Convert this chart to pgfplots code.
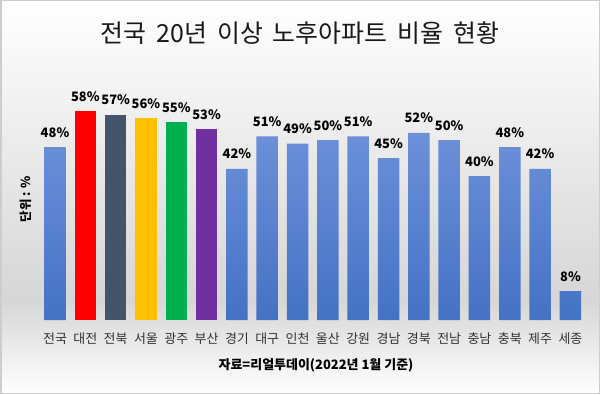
\documentclass[border=0pt]{standalone}
\usepackage{fontspec}
\setmainfont{Noto Sans CJK KR}
\usepackage{pgfplots}
\pgfplotsset{compat=1.18}
\definecolor{bTop}{RGB}{108,144,217}
\definecolor{bBot}{RGB}{68,114,196}
\definecolor{cRed}{RGB}{255,0,0}
\definecolor{cDark}{RGB}{68,84,106}
\definecolor{cGold}{RGB}{255,192,0}
\definecolor{cGreen}{RGB}{0,176,80}
\definecolor{cPurple}{RGB}{112,48,160}
\definecolor{bgGray}{RGB}{214,214,214}
\definecolor{borderGray}{RGB}{205,205,205}
\definecolor{labGray}{RGB}{50,50,50}
\newcommand{\ws}{\hspace{10bp}}
\begin{document}
\begin{tikzpicture}
\begin{scope}[x=1bp,y=1bp]
\useasboundingbox (0,0) rectangle (600,394);
\fill[top color=white, bottom color=bgGray] (0,94) rectangle (600,394);
\fill[top color=bgGray, bottom color=white] (0,0) rectangle (600,94.5);
\draw[color=borderGray, line width=1.5bp] (0.75,0.75) rectangle (599.25,393.25);
\node[font=\fontsize{25}{28}\selectfont, text=black!90] at (300,361) {전국\ws 20년\ws 이상\ws 노후아파트\ws 비율\ws 현황};
\node[font=\bfseries\fontsize{12.5}{14}\selectfont, rotate=90] at (26,195) {단위 : \%};
\node[font=\bfseries\fontsize{13}{15}\selectfont] at (316,29) {자료=리얼투데이(2022년 1월 기준)};
\end{scope}
\begin{axis}[
  at={(39.84bp,74bp)}, anchor=south west,
  scale only axis, width=545.76bp, height=234bp,
  xmin=-0.5, xmax=17.5, ymin=0, ymax=65,
  axis line style={draw=none},
  ytick=\empty,
  xtick={0,...,17},
  xticklabels={전국,대전,전북,서울,광주,부산,경기,대구,인천,울산,강원,경남,경북,전남,충남,충북,제주,세종},
  xticklabel style={anchor=base, yshift=-23bp, font=\fontsize{13}{15}\selectfont, text=labGray},
  major tick length=0pt,
  ybar, bar width=21.5bp, bar shift=0pt,
  /pgf/number format/assume math mode=true,
  nodes near coords={\pgfmathprintnumber{\pgfplotspointmeta}\%},
  nodes near coords style={anchor=base, yshift=10bp, font=\bfseries\fontsize{13}{15}\selectfont, text=black},
  clip=false,
]
\addplot[draw=none, top color=bTop, bottom color=bBot] coordinates {
 (0,48) (6,42) (7,51) (8,49) (9,50) (10,51) (11,45) (12,52) (13,50) (14,40) (15,48) (16,42) (17,8)};
\addplot[draw=none, fill=cRed] coordinates {(1,58)};
\addplot[draw=none, fill=cDark] coordinates {(2,57)};
\addplot[draw=none, fill=cGold] coordinates {(3,56)};
\addplot[draw=none, fill=cGreen] coordinates {(4,55)};
\addplot[draw=none, fill=cPurple] coordinates {(5,53)};
\end{axis}
\end{tikzpicture}
\end{document}
